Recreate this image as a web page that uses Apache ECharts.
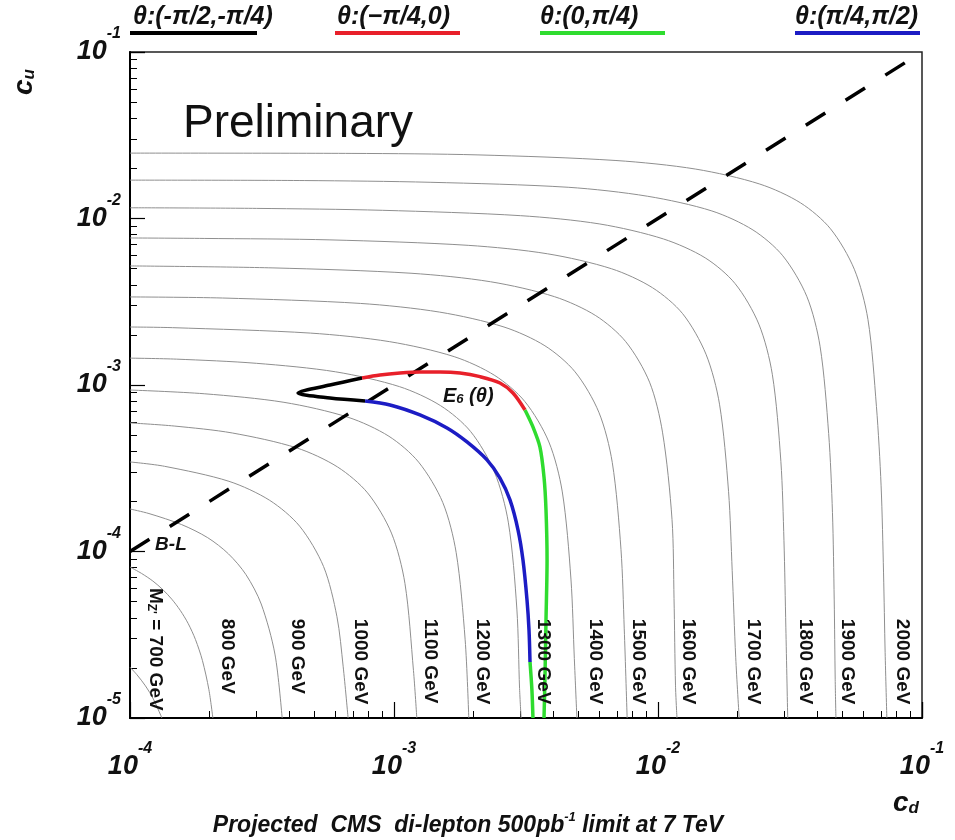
<!DOCTYPE html>
<html>
<head>
<meta charset="utf-8">
<script src="https://cdn.jsdelivr.net/npm/echarts@6/dist/echarts.min.js"></script>
<style>
  html, body { margin: 0; padding: 0; background: #fff; }
  #chart { width: 955px; height: 840px; }
</style>
</head>
<body>
<div id="chart"></div>
<script>
// Z' mass contours in the (c_d, c_u) plane; each list is [c_d, c_u] pairs.
const m700  = [[1e-4,2.02e-5],[1.062e-4,1.82e-5],[1.144e-4,1.56e-5],[1.226e-4,1.30e-5],[1.307e-4,1.04e-5],[1.32e-4,1e-5]];
const m800  = [[1e-4,8.07e-5],[1.105e-4,7.39e-5],[1.22e-4,6.65e-5],[1.33e-4,5.91e-5],[1.44e-4,5.17e-5],[1.55e-4,4.43e-5],[1.66e-4,3.70e-5],[1.77e-4,2.96e-5],[1.88e-4,2.22e-5],[1.99e-4,1.48e-5],[2.06e-4,1e-5]];
const m900  = [[1e-4,1.80e-4],[1.18e-4,1.69e-4],[1.57e-4,1.45e-4],[1.97e-4,1.21e-4],[2.36e-4,9.68e-5],[2.75e-4,7.26e-5],[3.14e-4,4.84e-5],[3.54e-4,2.42e-5],[3.77e-4,1e-5]];
const m1000 = [[1e-4,3.45e-4],[1.35e-4,3.25e-4],[2.37e-4,2.64e-4],[3.38e-4,2.03e-4],[4.39e-4,1.42e-4],[5.41e-4,8.12e-5],[6.08e-4,4.06e-5],[6.42e-4,2.03e-5],[6.70e-4,1e-5]];
const m1100 = [[1e-4,5.92e-4],[1.47e-4,5.67e-4],[2.44e-4,5.15e-4],[4.28e-4,4.19e-4],[6.11e-4,3.22e-4],[7.94e-4,2.25e-4],[9.78e-4,1.29e-4],[1.10e-3,6.44e-5],[1.185e-3,1.93e-5],[1.22e-3,1e-5]];
const m1200 = [[1e-4,9.33e-4],[1.91e-4,8.86e-4],[3.83e-4,7.87e-4],[6.70e-4,6.40e-4],[9.57e-4,4.92e-4],[1.24e-3,3.44e-4],[1.53e-3,1.97e-4],[1.72e-3,9.84e-5],[1.86e-3,2.95e-5],[1.92e-3,1e-5]];
const m1300 = [[1e-4,1.45e-3],[1.50e-4,1.43e-3],[3.01e-4,1.35e-3],[6.01e-4,1.20e-3],[1.05e-3,9.77e-4],[1.50e-3,7.52e-4],[1.95e-3,5.26e-4],[2.40e-3,3.01e-4],[2.71e-3,1.50e-4],[2.92e-3,4.51e-5],[2.99e-3,1.5e-5],[3.03e-3,1e-5]];
const m1400 = [[1e-4,2.23e-3],[1.45e-4,2.21e-3],[4.82e-4,2.05e-3],[9.64e-4,1.82e-3],[1.69e-3,1.48e-3],[2.41e-3,1.14e-3],[3.13e-3,7.96e-4],[3.86e-3,4.55e-4],[4.34e-3,2.28e-4],[4.68e-3,6.83e-5],[4.82e-3,2.28e-5],[4.93e-3,1e-5]];
const m1500 = [[1e-4,3.38e-3],[2.24e-4,3.33e-3],[7.46e-4,3.09e-3],[1.49e-3,2.74e-3],[2.61e-3,2.23e-3],[3.73e-3,1.72e-3],[4.85e-3,1.20e-3],[5.97e-3,6.86e-4],[6.71e-3,3.43e-4],[7.24e-3,1.03e-4],[7.45e-3,3.43e-5],[7.64e-3,1e-5]];
const m1600 = [[1e-4,5.19e-3],[3.48e-4,5.05e-3],[1.16e-3,4.69e-3],[2.32e-3,4.17e-3],[4.06e-3,3.39e-3],[5.81e-3,2.61e-3],[7.55e-3,1.82e-3],[9.29e-3,1.04e-3],[1.04e-2,5.21e-4],[1.13e-2,1.56e-4],[1.15e-2,5.21e-5],[1.165e-2,1.56e-5],[1.18e-2,1e-5]];
const m1700 = [[1e-4,7.64e-3],[1.91e-4,7.59e-3],[5.72e-4,7.44e-3],[1.91e-3,6.90e-3],[3.81e-3,6.14e-3],[6.67e-3,4.99e-3],[9.53e-3,3.84e-3],[1.24e-2,2.68e-3],[1.52e-2,1.53e-3],[1.71e-2,7.67e-4],[1.85e-2,2.30e-4],[1.91e-2,7.67e-5],[1.97e-2,2.30e-5],[2.03e-2,1e-5]];
const m1800 = [[1e-4,1.16e-2],[3.01e-4,1.15e-2],[9.03e-4,1.12e-2],[3.01e-3,1.04e-2],[6.02e-3,9.27e-3],[1.05e-2,7.53e-3],[1.51e-2,5.80e-3],[1.96e-2,4.06e-3],[2.41e-2,2.32e-3],[2.71e-2,1.16e-3],[2.92e-2,3.48e-4],[3.00e-2,1.16e-4],[3.05e-2,3.48e-5],[3.10e-2,1e-5]];
const m1900 = [[1e-4,1.70e-2],[4.57e-4,1.69e-2],[1.37e-3,1.65e-2],[4.57e-3,1.54e-2],[9.14e-3,1.36e-2],[1.60e-2,1.11e-2],[2.29e-2,8.53e-3],[2.97e-2,5.97e-3],[3.66e-2,3.41e-3],[4.11e-2,1.71e-3],[4.43e-2,5.12e-4],[4.58e-2,1.71e-4],[4.65e-2,5.12e-5],[4.69e-2,1.71e-5],[4.72e-2,1e-5]];
const m2000 = [[1e-4,2.47e-2],[6.93e-4,2.46e-2],[2.08e-3,2.41e-2],[6.93e-3,2.23e-2],[1.39e-2,1.98e-2],[2.43e-2,1.61e-2],[3.47e-2,1.24e-2],[4.50e-2,8.68e-3],[5.54e-2,4.96e-3],[6.24e-2,2.48e-3],[6.72e-2,7.44e-4],[7.00e-2,2.48e-4],[7.15e-2,7.44e-5],[7.25e-2,2.48e-5],[7.36e-2,1e-5]];

const contours = [m700, m800, m900, m1000, m1100, m1200, m1300, m1400, m1500, m1600, m1700, m1800, m1900, m2000];

// Contour labels and where they sit (top end of each rotated label)
const massLabels = ["{m|M}{s|Z'}{m| = 700 GeV}", '800 GeV', '900 GeV', '1000 GeV', '1100 GeV', '1200 GeV', '1300 GeV',
                    '1400 GeV', '1500 GeV', '1600 GeV', '1700 GeV', '1800 GeV', '1900 GeV', '2000 GeV'];
const massLabelCd = [1.245e-4, 2.33e-4, 4.30e-4, 7.43e-4, 1.37e-3, 2.15e-3, 3.67e-3, 5.76e-3, 8.39e-3, 1.30e-2, 2.29e-2, 3.60e-2, 5.20e-2, 8.39e-2];
const massLabelCu = [6.04e-5, 3.94e-5, 3.94e-5, 3.94e-5, 3.94e-5, 3.94e-5, 3.94e-5, 3.94e-5, 3.94e-5, 3.94e-5, 3.94e-5, 3.94e-5, 3.94e-5, 3.94e-5];

// E6 family, split by mixing-angle range
const e6Black = [[7.57e-4,1.102e-3],[5.72e-4,1.0e-3],[4.33e-4,8.95e-4],[5.72e-4,8.35e-4],[7.77e-4,8.02e-4]];
const e6Red   = [[7.57e-4,1.102e-3],[8.85e-4,1.148e-3],[1.054e-3,1.180e-3],[1.254e-3,1.197e-3],[1.494e-3,1.197e-3],[1.778e-3,1.180e-3],[2.118e-3,1.122e-3],[2.52e-3,1.028e-3],[2.823e-3,8.95e-4],[3.135e-3,7.08e-4]];
const e6Green = [[3.135e-3,7.08e-4],[3.36e-3,5.60e-4],[3.57e-3,4.25e-4],[3.70e-3,2.80e-4],[3.765e-3,1.775e-4],[3.80e-3,8.89e-5],[3.765e-3,3.88e-5],[3.73e-3,1.69e-5],[3.70e-3,1.0e-5]];
const e6GreenTail = [[3.275e-3,2.17e-5],[3.33e-3,1.47e-5],[3.36e-3,1.0e-5]];
const e6Blue  = [[7.77e-4,8.02e-4],[9.66e-4,7.59e-4],[1.254e-3,6.61e-4],[1.588e-3,5.52e-4],[1.890e-3,4.55e-4],[2.25e-3,3.55e-4],[2.52e-3,2.76e-4],[2.75e-3,2.04e-4],[2.95e-3,1.346e-4],[3.08e-3,8.89e-5],[3.19e-3,5.12e-5],[3.246e-3,3.38e-5],[3.275e-3,2.17e-5]];

// B-L model: c_u = c_d
const bminusL = [[1e-4,1e-4],[0.097,0.097]];

// Text annotations placed in data space
const noteTexts = ['{e|E}{s|6}{e| (θ)}', 'B-L'];
const noteCd = [1.533e-3, 1.245e-4];
const noteCu = [8.59e-4, 1.094e-4];

// Axis tick labels (decade exponents)
const xTickExps = ['-4', '-3', '-2', '-1'];
const yTickExps = ['-5', '-4', '-3', '-2', '-1'];

// Angle ranges shown in the key
const thetaRanges = ['θ:(-π/2,-π/4)', 'θ:(−π/4,0)', 'θ:(0,π/4)', 'θ:(π/4,π/2)'];
const thetaColors = ['#000000', '#e8202a', '#2fdc2f', '#1c1cc4'];

const FONT = 'Liberation Sans, Arial, sans-serif';
const TXT = '#111';

function tickLabel(list) {
  return function (v) {
    const e = String(Math.round(Math.log10(v)));
    return list.indexOf(e) >= 0 ? '{b|10}{e|' + e + '}' : '';
  };
}
const tickRich = {
  b: { fontFamily: FONT, fontSize: 27, fontWeight: 'bold', fontStyle: 'italic', color: TXT, lineHeight: 52 },
  e: { fontFamily: FONT, fontSize: 16, fontWeight: 'bold', fontStyle: 'italic', color: TXT, lineHeight: 16, verticalAlign: 'top' }
};

const series = [];
contours.forEach(function (c, i) {
  series.push({
    type: 'line', name: 'M' + i, data: c, smooth: 0.3, symbol: 'none', silent: true, z: 2,
    lineStyle: { color: '#8f8f8f', width: 1 }
  });
});
series.push({
  type: 'line', data: bminusL, symbol: 'none', silent: true, z: 3,
  lineStyle: { color: '#000', width: 3.5, type: [23, 24], cap: 'butt' }
});
[[e6Black, 0], [e6Red, 1], [e6Green, 2], [e6GreenTail, 2], [e6Blue, 3]].forEach(function (p) {
  series.push({
    type: 'line', data: p[0], smooth: 0.3, symbol: 'none', silent: true, z: 4,
    lineStyle: { color: thetaColors[p[1]], width: 3.5 }
  });
});
series.push({
  type: 'scatter', symbolSize: 0, silent: true, z: 6,
  itemStyle: { opacity: 1 },
  data: massLabels.map(function (t, i) {
    return { value: [massLabelCd[i], massLabelCu[i]], label: { formatter: t } };
  }),
  label: {
    show: true, position: 'inside', rotate: -90, align: 'left', verticalAlign: 'middle', opacity: 1,
    fontFamily: FONT, fontSize: 19, fontWeight: 'bold', color: TXT, textBorderWidth: 0,
    rich: {
      m: { fontFamily: FONT, fontSize: 19, fontWeight: 'bold', color: TXT },
      s: { fontFamily: FONT, fontSize: 12, fontWeight: 'bold', color: TXT, verticalAlign: 'bottom', lineHeight: 12 }
    }
  }
});
series.push({
  type: 'scatter', symbolSize: 0, silent: true, z: 6,
  itemStyle: { opacity: 1 },
  data: noteTexts.map(function (t, i) {
    return { value: [noteCd[i], noteCu[i]], label: { formatter: t } };
  }),
  label: {
    show: true, position: 'inside', align: 'left', verticalAlign: 'middle', opacity: 1,
    fontFamily: FONT, fontSize: 19, fontWeight: 'bold', fontStyle: 'italic', color: TXT, textBorderWidth: 0,
    rich: {
      e: { fontFamily: FONT, fontSize: 20, fontWeight: 'bold', fontStyle: 'italic', color: TXT },
      s: { fontFamily: FONT, fontSize: 13, fontWeight: 'bold', fontStyle: 'italic', color: TXT, verticalAlign: 'bottom', lineHeight: 12 }
    }
  }
});

// Key: text with a coloured underline beneath
const keyX = [[130, 257, 133], [335, 460, 337], [540, 665, 540], [795, 920, 795]];
const graphics = [];
thetaRanges.forEach(function (t, i) {
  graphics.push({
    type: 'text', x: keyX[i][2], y: 17,
    style: { text: t, fontFamily: FONT, fontSize: 25, fontWeight: 'bold', fontStyle: 'italic', fill: TXT, align: 'left', verticalAlign: 'middle' }
  });
  graphics.push({
    type: 'rect', shape: { x: keyX[i][0], y: 31, width: keyX[i][1] - keyX[i][0], height: 4 },
    style: { fill: thetaColors[i] }
  });
});
graphics.push({
  type: 'text', x: 183, y: 124,
  style: { text: 'Preliminary', fontFamily: FONT, fontSize: 46, fill: TXT, align: 'left', verticalAlign: 'middle' }
});
graphics.push({
  type: 'text', x: 24, y: 82, rotation: Math.PI / 2,
  style: {
    text: '{c|c}{s|u}', align: 'center', verticalAlign: 'middle',
    rich: {
      c: { fontFamily: FONT, fontSize: 28, fontWeight: 'bold', fontStyle: 'italic', fill: TXT },
      s: { fontFamily: FONT, fontSize: 17, fontWeight: 'bold', fontStyle: 'italic', fill: TXT, verticalAlign: 'bottom', lineHeight: 14 }
    }
  }
});
graphics.push({
  type: 'text', x: 893, y: 803,
  style: {
    text: '{c|c}{s|d}', align: 'left', verticalAlign: 'middle',
    rich: {
      c: { fontFamily: FONT, fontSize: 28, fontWeight: 'bold', fontStyle: 'italic', fill: TXT },
      s: { fontFamily: FONT, fontSize: 17, fontWeight: 'bold', fontStyle: 'italic', fill: TXT, verticalAlign: 'bottom', lineHeight: 14 }
    }
  }
});
graphics.push({
  type: 'text', x: 468, y: 826,
  style: {
    text: '{t|Projected  CMS  di-lepton 500pb}{p|-1}{t| limit at 7 TeV}', align: 'center', verticalAlign: 'middle',
    rich: {
      t: { fontFamily: FONT, fontSize: 23, fontWeight: 'bold', fontStyle: 'italic', fill: TXT, lineHeight: 30 },
      p: { fontFamily: FONT, fontSize: 13, fontWeight: 'bold', fontStyle: 'italic', fill: TXT, lineHeight: 13, verticalAlign: 'top' }
    }
  }
});

const chart = echarts.init(document.getElementById('chart'), null, { renderer: 'canvas' });
chart.setOption({
  backgroundColor: '#fff',
  animation: false,
  grid: { left: 130, right: 33, top: 52, bottom: 122, show: true, borderColor: '#222', borderWidth: 1.5, backgroundColor: 'transparent' },
  xAxis: {
    type: 'log', logBase: 10, min: 1e-4, max: 1e-1,
    axisLine: { show: true, lineStyle: { color: '#000', width: 2 } },
    axisTick: { show: true, inside: true, length: 16, lineStyle: { color: '#000', width: 1.2 } },
    minorTick: { show: true, splitNumber: 9, length: 7, lineStyle: { color: '#000', width: 1 } },
    splitLine: { show: false },
    axisLabel: { formatter: tickLabel(xTickExps), margin: 23, rich: tickRich }
  },
  yAxis: {
    type: 'log', logBase: 10, min: 1e-5, max: 1e-1,
    axisLine: { show: true, lineStyle: { color: '#000', width: 2 } },
    axisTick: { show: true, inside: true, length: 15, lineStyle: { color: '#000', width: 1.2 } },
    minorTick: { show: true, splitNumber: 9, length: 7, lineStyle: { color: '#000', width: 1 } },
    splitLine: { show: false },
    axisLabel: { formatter: tickLabel(yTickExps), margin: 9, rich: tickRich }
  },
  series: series,
  graphic: graphics
});
</script>
</body>
</html>
